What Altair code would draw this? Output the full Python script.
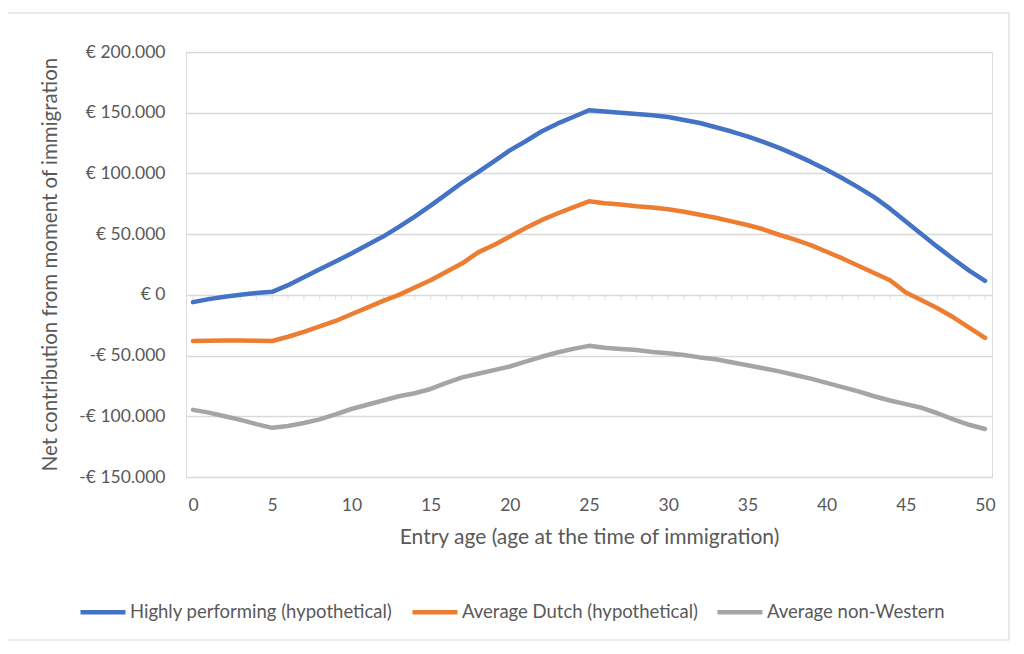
import altair as alt
import pandas as pd

ages = list(range(51))
highly = [-6000, -3500, -1500, 0, 1500, 2500, 8000, 14500, 21000, 27500,
          34000, 41000, 48000, 56000, 64500, 73500, 83000, 92500, 101000, 110000,
          119000, 126500, 134500, 141000, 146500, 152000, 151000, 150000, 149000, 148000,
          146500, 144000, 141500, 138000, 134500, 130500, 126000, 121000, 115500, 109500,
          103000, 96000, 88500, 80500, 71000, 60500, 50000, 39500, 29500, 20000, 11500]
dutch = [-38000, -37800, -37600, -37500, -37700, -38000, -34500, -30500, -26000, -21500,
         -16000, -10500, -5000, 0, 6000, 12000, 19000, 26000, 35000, 41000,
         48000, 55000, 61500, 67000, 72000, 77000, 75500, 74500, 73000, 72000,
         70500, 68500, 66000, 63500, 60500, 57500, 54000, 49500, 45500, 41000,
         35500, 30000, 24000, 18000, 12000, 2000, -4500, -11000, -18500, -27000, -35500]
nonwestern = [-94700, -97000, -100000, -103000, -106500, -109500, -108000, -105500, -102500, -98500,
              -94000, -90500, -87000, -83500, -81000, -77500, -72500, -68000, -65000, -62000,
              -59000, -55000, -51000, -47500, -44500, -42000, -43500, -44500, -45500, -47000,
              -48000, -49500, -51500, -53000, -55500, -58000, -60500, -63000, -66000, -69000,
              -72500, -76000, -79500, -83500, -87000, -90000, -93000, -97500, -102500, -107000, -110500]

series_names = ["Highly performing (hypothetical)", "Average Dutch (hypothetical)", "Average non-Western"]
colors = ["#4472C4", "#ED7D31", "#A5A5A5"]
y_ticks = [-150000, -100000, -50000, 0, 50000, 100000, 150000, 200000]
x_ticks = [0, 5, 10, 15, 20, 25, 30, 35, 40, 45, 50]
minor_ticks = ages

rows = []
for name, vals in zip(series_names, [highly, dutch, nonwestern]):
    for a, v in zip(ages, vals):
        rows.append({"age": a, "value": v, "series": name})
df = pd.DataFrame(rows)

W, H = 806, 425
FONT = "Lato"
TXT = "#595959"
GRID = "#D9D9D9"

x_scale = alt.Scale(domain=[-0.44, 50.44], nice=False, zero=False)
y_scale = alt.Scale(domain=[-150000, 200000], nice=False)

frame = alt.Chart(pd.DataFrame({"a": [0]})).mark_rect(
    fillOpacity=0, stroke=GRID, strokeWidth=1.2
).encode(
    x=alt.value(-179), x2=alt.value(823), y=alt.value(-39), y2=alt.value(588)
)

minor = alt.Chart(pd.DataFrame({"age": minor_ticks, "zero": [0] * len(minor_ticks)})).mark_tick(
    orient="vertical", size=5, thickness=1.2, color=GRID, yOffset=2.5
).encode(
    x=alt.X("age:Q", scale=x_scale),
    y=alt.Y("zero:Q", scale=y_scale),
)

lines = alt.Chart(df).mark_line(
    strokeWidth=4.5, strokeCap="round", strokeJoin="round"
).encode(
    x=alt.X("age:Q", scale=x_scale,
            axis=alt.Axis(values=x_ticks, title="Entry age (age at the time of immigration)",
                          grid=False, domain=False, ticks=False, tickSize=0,
                          labelPadding=19, labelFont=FONT, labelFontSize=17.5, labelColor=TXT,
                          labelFlush=False,
                          titleFont=FONT, titleFontSize=21, titleFontWeight="normal", titleColor=TXT,
                          titleY=60, titleBaseline="middle")),
    y=alt.Y("value:Q", scale=y_scale,
            axis=alt.Axis(values=y_ticks, title="Net contribution from moment of immigration",
                          grid=True, gridColor=GRID, gridWidth=1.3, domain=False, ticks=False,
                          tickSize=0, labelPadding=21, labelFont=FONT, labelFontSize=17.5,
                          labelColor=TXT,
                          labelExpr="datum.value == 0 ? '€ 0' : (datum.value < 0 ? '-€ ' : '€ ') + format(abs(datum.value) / 1000, 'd') + '.000'",
                          titleFont=FONT, titleFontSize=20.5, titleFontWeight="normal", titleColor=TXT,
                          titleX=-136, titleY=212, titleAngle=270, titleAlign="center",
                          titleBaseline="middle")),
    color=alt.Color("series:N", scale=alt.Scale(domain=series_names, range=colors),
                    legend=alt.Legend(title=None, orient="none", legendX=-108, legendY=535,
                                      direction="horizontal", columns=3, symbolType="stroke",
                                      symbolSize=2025, symbolStrokeWidth=4.5, labelFont=FONT,
                                      labelFontSize=18.5, labelColor=TXT, labelOffset=2,
                                      columnPadding=10, labelLimit=500, padding=0)),
)

chart = alt.layer(frame, minor, lines).properties(
    width=W, height=H,
    autosize=alt.AutoSizeParams(type="none"),
    padding={"left": 178, "top": 44, "right": 24, "bottom": 165},
).configure_view(stroke=None).configure(background="white")

chart.save("out.html", embed_options={"renderer": "svg", "actions": False})
